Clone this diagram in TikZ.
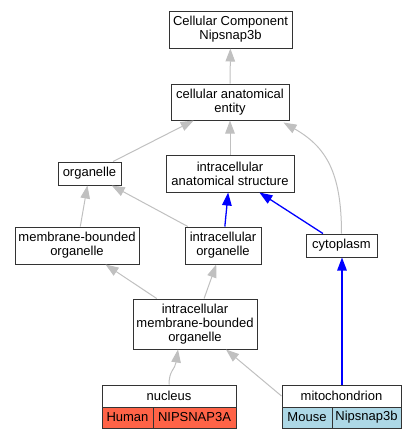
\documentclass[tikz,border=0pt]{standalone}
\usepackage{fontspec}
\setmainfont{Liberation Sans}
\usetikzlibrary{arrows.meta,calc}
\definecolor{edgegray}{HTML}{C0C0C0}
\definecolor{edgeblue}{HTML}{0000FF}
\definecolor{tomatofill}{HTML}{FF6347}
\definecolor{lbluefill}{HTML}{ADD8E6}
\begin{document}
\begin{tikzpicture}[x=1pt,y=-1pt,
  box/.style={draw=black!80, line width=1pt, fill=white, align=center, inner sep=0pt,
    font=\fontsize{13}{14}\selectfont},
  gedge/.style={draw=edgegray, line width=1pt, -{Triangle[length=13pt,width=9.5pt,fill=edgegray]}},
  bedge/.style={draw=edgeblue, line width=1.3pt, -{Triangle[length=13pt,width=9.5pt,fill=edgeblue]}}]
\useasboundingbox (0,0) rectangle (417,440);
\node[box, minimum width=123pt, minimum height=37pt] (cc) at (230.5,29.5) {Cellular Component\\Nipsnap3b};
\node[box, minimum width=118pt, minimum height=36pt] (cae) at (230,102) {cellular anatomical\\entity};
\node[box, minimum width=63pt, minimum height=23pt] (org) at (89.5,173.5) {organelle};
\node[box, minimum width=128pt, minimum height=37pt] (ias) at (230,173.5) {intracellular\\anatomical structure};
\node[box, minimum width=124pt, minimum height=37pt] (mbo) at (77,245.5) {membrane-bounded\\organelle};
\node[box, minimum width=76pt, minimum height=37pt] (io) at (223,245.5) {intracellular\\organelle};
\node[box, minimum width=71pt, minimum height=23pt] (cyto) at (341.5,245.5) {cytoplasm};
\node[box, minimum width=124pt, minimum height=50pt] (imbo) at (195,324) {intracellular\\membrane-bounded\\organelle};
\node[box, minimum width=134pt, minimum height=22pt] (nuc) at (169,396) {nucleus};
\node[box, fill=tomatofill, minimum width=51pt, minimum height=21pt] (nucH) at (127.5,417.5) {Human};
\node[box, fill=tomatofill, minimum width=83pt, minimum height=21pt] (nucG) at (194.5,417.5) {NIPSNAP3A};
\node[box, minimum width=119pt, minimum height=22pt] (mito) at (341.5,396) {mitochondrion};
\node[box, fill=lbluefill, minimum width=50pt, minimum height=21pt] (mitoM) at (307,417.5) {Mouse};
\node[box, fill=lbluefill, minimum width=69pt, minimum height=21pt] (mitoG) at (366.5,417.5) {Nipsnap3b};
% gray edges
\draw[gedge] (cae) -- (cc);
\draw[gedge] (org) -- (cae);
\draw[gedge] (ias) -- (cae);
\draw[gedge] (cyto.north) .. controls ($(cyto.north)+(0,-62)$) and ($(cae.south east)+(36,26)$) .. ($(cae.south east)+(-6,2)$);
\draw[gedge] (mbo) -- (org);
\draw[gedge] (io) -- (org);
\draw[gedge] (imbo) -- (mbo);
\draw[gedge] (imbo) -- (io);
\draw[gedge] (nuc.north) .. controls ($(nuc.north)+(0,-14)$) and ($(imbo.south)+(-20,20)$) .. ([xshift=-17pt]imbo.south);
\draw[gedge] (mito.west) -- ([xshift=31pt]imbo.south);
% blue edges
\draw[bedge] (io) -- (ias);
\draw[bedge] (cyto) -- (ias);
\draw[bedge] ([xshift=0.5pt]mito.north) -- ([xshift=0.5pt]cyto.south);
\end{tikzpicture}
\end{document}
